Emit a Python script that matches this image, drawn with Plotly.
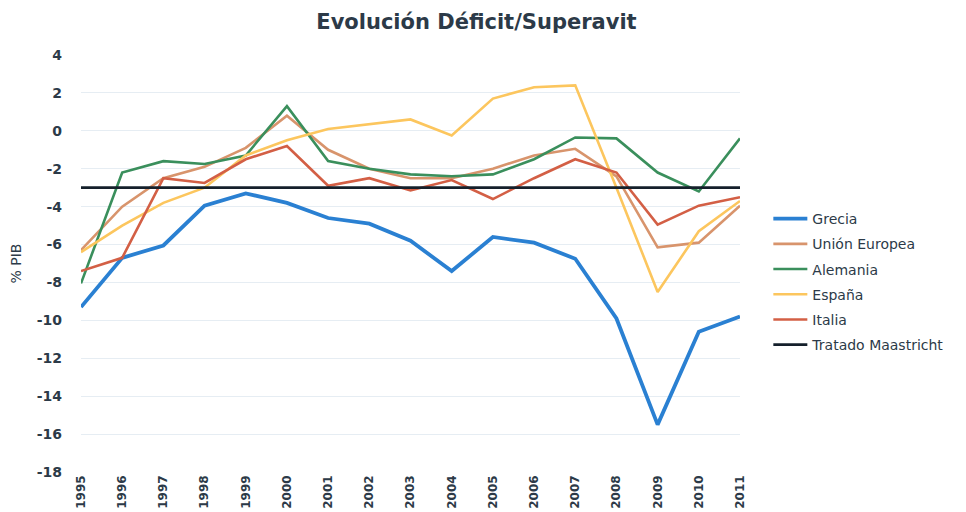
"""Evolución Déficit/Superavit: deficit/superavit as % of GDP, 1995-2011."""

import plotly.graph_objects as go

# ---------------------------------------------------------------------------
# Data
# ---------------------------------------------------------------------------
years = ["1995", "1996", "1997", "1998", "1999", "2000", "2001", "2002", "2003",
         "2004", "2005", "2006", "2007", "2008", "2009", "2010", "2011"]

grecia = [-9.3, -6.7, -6.05, -3.95, -3.3, -3.8, -4.6, -4.9, -5.8,
          -7.4, -5.6, -5.9, -6.75, -9.9, -15.5, -10.6, -9.8]
union_europea = [-6.3, -4.0, -2.5, -1.9, -0.9, 0.8, -1.0, -2.0, -2.5,
                 -2.5, -2.0, -1.3, -0.95, -2.4, -6.15, -5.9, -3.95]
alemania = [-8.05, -2.2, -1.6, -1.75, -1.3, 1.3, -1.6, -2.0, -2.3,
            -2.4, -2.3, -1.5, -0.35, -0.4, -2.2, -3.2, -0.4]
espana = [-6.4, -5.0, -3.8, -3.0, -1.3, -0.5, 0.1, 0.35, 0.6,
          -0.25, 1.7, 2.3, 2.4, -3.0, -8.5, -5.3, -3.7]
italia = [-7.4, -6.7, -2.5, -2.75, -1.5, -0.8, -2.9, -2.5, -3.15,
          -2.6, -3.6, -2.5, -1.5, -2.2, -4.95, -3.95, -3.5]
maastricht = [-3, -3, -3, -3, -3, -3, -3, -3, -3,
              -3, -3, -3, -3, -3, -3, -3, -3]

y_ticks = [4, 2, 0, -2, -4, -6, -8, -10, -12, -14, -16, -18]

series = [
    ("Grecia", grecia, "#2a80d2", 3.8),
    ("Unión Europea", union_europea, "#d8946c", 2.6),
    ("Alemania", alemania, "#3a8f5c", 2.6),
    ("España", espana, "#fcc65e", 2.6),
    ("Italia", italia, "#d35f45", 2.6),
    ("Tratado Maastricht", maastricht, "#15202b", 2.8),
]

# the page body keeps an 8px margin, so the figure is sized to what is visible
_FONT = "DejaVu Sans, Verdana, sans-serif"
_TEXT = "#2c3a48"

fig = go.Figure()
for name, values, colour, width in series:
    fig.add_trace(go.Scatter(
        x=years,
        y=values,
        name=name,
        mode="lines",
        legendgroup=name,
        line=dict(color=colour, width=width),
    ))

fig.update_layout(
    width=958,
    height=504,
    paper_bgcolor="white",
    plot_bgcolor="white",
    margin=dict(l=73, r=226, t=47, b=40),
    font=dict(family=_FONT, color=_TEXT),
    title=dict(
        text="<b>Evolución Déficit/Superavit</b>",
        x=0.489,
        xanchor="center",
        y=0.972,
        yanchor="middle",
        font=dict(size=21, color=_TEXT),
    ),
    legend=dict(
        x=1.043,
        xanchor="left",
        y=0.645,
        yanchor="top",
        tracegroupgap=4,
        itemwidth=34,
        font=dict(size=14, color=_TEXT),
        bgcolor="rgba(0,0,0,0)",
    ),
    showlegend=True,
)

fig.update_xaxes(
    type="category",
    range=[0, 16],
    tickangle=-90,
    tickvals=years,
    ticktext=[f"<b>{y}</b>" for y in years],
    tickfont=dict(size=12, color=_TEXT),
    showgrid=False,
    showline=False,
    zeroline=False,
    ticks="",
    automargin=False,
)
fig.update_yaxes(
    range=[-18, 4],
    tickvals=y_ticks,
    ticktext=[f"<b>{v}</b>" for v in y_ticks],
    tickfont=dict(size=14, color=_TEXT),
    showgrid=True,
    gridcolor="#e6edf3",
    gridwidth=1,
    zeroline=False,
    showline=False,
    ticks="",
    ticklabelstandoff=18,
    automargin=False,
    title=dict(text="% PIB", font=dict(size=14, color=_TEXT), standoff=12),
)

fig.write_html("out.html")
